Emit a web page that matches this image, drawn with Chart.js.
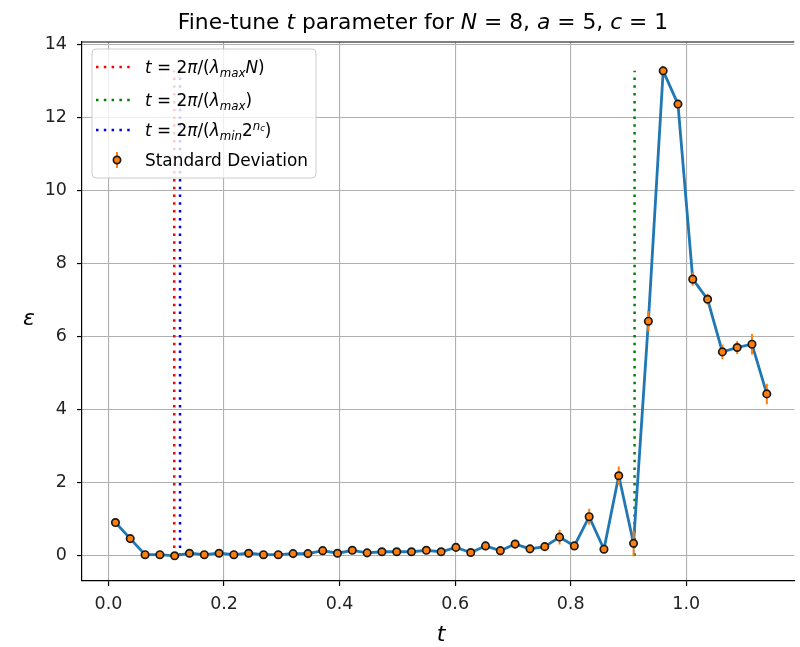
<!DOCTYPE html>
<html>
<head>
<meta charset="utf-8">
<script src="https://cdn.jsdelivr.net/npm/chart.js@4"></script>
<style>
  html, body { margin: 0; background: #fff; }
  #wrap { width: 800px; height: 647px; }
</style>
</head>
<body>
<div id="wrap"><canvas id="chart" width="800" height="647"></canvas></div>
<script>
// t values (x)
const tValues = [
  0.0120, 0.0376, 0.0633, 0.0889, 0.1145, 0.1401, 0.1658, 0.1914, 0.2170, 0.2426,
  0.2683, 0.2939, 0.3195, 0.3452, 0.3708, 0.3964, 0.4220, 0.4477, 0.4733, 0.4989,
  0.5245, 0.5502, 0.5758, 0.6014, 0.6271, 0.6527, 0.6783, 0.7039, 0.7296, 0.7552,
  0.7808, 0.8064, 0.8321, 0.8577, 0.8833, 0.9089, 0.9346, 0.9602, 0.9858, 1.0114,
  1.0371, 1.0627, 1.0883, 1.1139, 1.1396
];
// epsilon (mean) per t
const epsValues = [
  0.91, 0.47, 0.03, 0.03, 0.00, 0.07, 0.03, 0.07, 0.03, 0.07,
  0.03, 0.03, 0.06, 0.06, 0.14, 0.07, 0.15, 0.08, 0.11, 0.11,
  0.11, 0.15, 0.11, 0.23, 0.09, 0.27, 0.14, 0.32, 0.19, 0.25,
  0.51, 0.27, 1.07, 0.18, 2.19, 0.34, 6.42, 13.27, 12.36, 7.57,
  7.02, 5.58, 5.70, 5.79, 4.43
];
// standard deviation per t
const epsErrors = [
  0.05, 0.05, 0.03, 0.03, 0.03, 0.04, 0.03, 0.05, 0.03, 0.04,
  0.03, 0.03, 0.05, 0.05, 0.06, 0.05, 0.08, 0.05, 0.06, 0.06,
  0.06, 0.08, 0.06, 0.10, 0.06, 0.12, 0.07, 0.12, 0.08, 0.12,
  0.20, 0.10, 0.22, 0.10, 0.25, 0.35, 0.28, 0.12, 0.12, 0.18,
  0.15, 0.20, 0.18, 0.28, 0.28
];

// reference t lines
const tRed = 0.1138;    // 2pi/(lambda_max N)
const tGreen = 0.9107;  // 2pi/lambda_max
const tBlue = 0.1238;   // 2pi/(lambda_min 2^nc)
const vlineBottom = 0;
const vlineTop = 13.27;

const xMin = -0.0459, xMax = 1.1872;
const yMin = -0.69, yMax = 14.06;

const FONT = '"DejaVu Sans", "Liberation Sans", sans-serif';
const DOTS = [2.5, 5.3];

function fontFor(p, size) {
  const s = Math.round(size * (p.k || 1) * 10) / 10;
  return (p.it ? 'italic ' : '') + s + 'px ' + FONT;
}
function richWidth(ctx, parts, size) {
  let w = 0;
  parts.forEach(p => { ctx.font = fontFor(p, size); w += ctx.measureText(p.s).width; });
  return w;
}
function drawRich(ctx, parts, x, y, size) {
  ctx.textAlign = 'left';
  ctx.textBaseline = 'alphabetic';
  parts.forEach(p => {
    ctx.font = fontFor(p, size);
    ctx.fillText(p.s, x, y + (p.dy || 0) * size);
    x += ctx.measureText(p.s).width;
  });
}

const titleParts = [
  { s: 'Fine-tune ' }, { s: 't', it: 1 }, { s: ' parameter for ' },
  { s: 'N', it: 1 }, { s: ' = 8, ' }, { s: 'a', it: 1 }, { s: ' = 5, ' },
  { s: 'c', it: 1 }, { s: ' = 1' }
];
const legendItems = [
  { kind: 'line', color: '#ff0000', parts: [
    { s: 't', it: 1 }, { s: ' = 2' }, { s: 'π', it: 1 }, { s: '/(' }, { s: 'λ', it: 1 },
    { s: 'max', it: 1, k: 0.7, dy: 0.22 }, { s: 'N', it: 1 }, { s: ')' }] },
  { kind: 'line', color: '#008000', parts: [
    { s: 't', it: 1 }, { s: ' = 2' }, { s: 'π', it: 1 }, { s: '/(' }, { s: 'λ', it: 1 },
    { s: 'max', it: 1, k: 0.7, dy: 0.22 }, { s: ')' }] },
  { kind: 'line', color: '#0000ff', parts: [
    { s: 't', it: 1 }, { s: ' = 2' }, { s: 'π', it: 1 }, { s: '/(' }, { s: 'λ', it: 1 },
    { s: 'min', it: 1, k: 0.7, dy: 0.22 }, { s: '2' }, { s: 'n', it: 1, k: 0.7, dy: -0.38 },
    { s: 'c', it: 1, k: 0.5, dy: -0.28 }, { s: ')' }] },
  { kind: 'marker', parts: [{ s: 'Standard Deviation' }] }
];

// error bars drawn right after the blue line, below the markers
const errorBarPlugin = {
  id: 'errorBars',
  afterDatasetDraw(chart, args) {
    if (args.index !== 1) return;
    const { ctx, scales: { x, y }, chartArea } = chart;
    ctx.save();
    ctx.beginPath();
    ctx.rect(chartArea.left, chartArea.top, chartArea.right - chartArea.left, chartArea.bottom - chartArea.top);
    ctx.clip();
    ctx.strokeStyle = '#ff7f0e';
    ctx.lineWidth = 2;
    tValues.forEach((t, i) => {
      const px = x.getPixelForValue(t);
      ctx.beginPath();
      ctx.moveTo(px, y.getPixelForValue(epsValues[i] - epsErrors[i]));
      ctx.lineTo(px, y.getPixelForValue(epsValues[i] + epsErrors[i]));
      ctx.stroke();
    });
    ctx.restore();
  }
};

// title, axis labels, top spine, legend
const decorPlugin = {
  id: 'decor',
  afterDraw(chart) {
    const { ctx, chartArea } = chart;
    ctx.save();
    // top spine
    ctx.strokeStyle = '#000';
    ctx.lineWidth = 1.2;
    ctx.beginPath();
    ctx.moveTo(chartArea.left, chartArea.top);
    ctx.lineTo(chartArea.right, chartArea.top);
    ctx.stroke();

    ctx.fillStyle = '#000';
    // title
    const tw = richWidth(ctx, titleParts, 21.8);
    drawRich(ctx, titleParts, 423 - tw / 2, 29, 21.8);
    // axis labels
    ctx.font = 'italic 22px ' + FONT;
    ctx.textAlign = 'center';
    ctx.textBaseline = 'alphabetic';
    ctx.fillText('t', 441, 641);
    ctx.fillText('ε', 29, 325);

    // legend box
    const bx = 92, by = 49, bw = 224, bh = 129, r = 4;
    ctx.fillStyle = 'rgba(255,255,255,0.8)';
    ctx.strokeStyle = '#cccccc';
    ctx.lineWidth = 1;
    ctx.beginPath();
    ctx.roundRect(bx, by, bw, bh, r);
    ctx.fill();
    ctx.stroke();

    const rowY = [67, 100, 130, 160];
    legendItems.forEach((item, i) => {
      const cy = rowY[i];
      if (item.kind === 'line') {
        ctx.strokeStyle = item.color;
        ctx.lineWidth = 2.5;
        ctx.setLineDash(DOTS);
        ctx.beginPath();
        ctx.moveTo(96, cy);
        ctx.lineTo(133, cy);
        ctx.stroke();
        ctx.setLineDash([]);
      } else {
        ctx.strokeStyle = '#ff7f0e';
        ctx.lineWidth = 2;
        ctx.beginPath();
        ctx.moveTo(117, cy - 8);
        ctx.lineTo(117, cy + 8);
        ctx.stroke();
        ctx.fillStyle = '#ff7f0e';
        ctx.strokeStyle = '#1a1a1a';
        ctx.lineWidth = 1.7;
        ctx.beginPath();
        ctx.arc(117, cy, 3.6, 0, Math.PI * 2);
        ctx.fill();
        ctx.stroke();
      }
      ctx.fillStyle = '#000';
      drawRich(ctx, item.parts, 145, cy + 6, 16.9);
    });
    ctx.restore();
  }
};

const points = tValues.map((t, i) => ({ x: t, y: epsValues[i] }));
const vline = t => [{ x: t, y: vlineBottom }, { x: t, y: vlineTop }];

new Chart(document.getElementById('chart'), {
  type: 'line',
  data: {
    datasets: [
      {
        label: 'Standard Deviation',
        data: points,
        showLine: false,
        pointRadius: 3.7,
        pointBackgroundColor: '#ff7f0e',
        pointBorderColor: '#1a1a1a',
        pointBorderWidth: 1.7,
        order: 0
      },
      {
        label: 'eps',
        data: points,
        borderColor: '#1f77b4',
        borderWidth: 2.8,
        pointRadius: 0,
        tension: 0,
        order: 1
      },
      {
        label: 'red',
        data: vline(tRed),
        borderColor: '#ff0000',
        borderWidth: 2.5,
        borderDash: DOTS,
        pointRadius: 0,
        order: 2
      },
      {
        label: 'green',
        data: vline(tGreen),
        borderColor: '#008000',
        borderWidth: 2.5,
        borderDash: DOTS,
        pointRadius: 0,
        order: 2
      },
      {
        label: 'blue',
        data: vline(tBlue),
        borderColor: '#0000ff',
        borderWidth: 2.5,
        borderDash: DOTS,
        pointRadius: 0,
        order: 2
      }
    ]
  },
  options: {
    responsive: false,
    animation: false,
    devicePixelRatio: 1,
    layout: { padding: { top: 42, right: 0, left: 0, bottom: 0 } },
    plugins: {
      legend: { display: false },
      title: { display: false },
      tooltip: { enabled: false }
    },
    scales: {
      x: {
        type: 'linear',
        min: xMin,
        max: xMax,
        afterFit: s => { s.height = 66; },
        border: { color: '#000', width: 1.2 },
        grid: { color: '#b0b0b0', lineWidth: 1.1, tickColor: '#000', tickLength: 5, tickWidth: 1.2 },
        ticks: {
          stepSize: 0.2,
          includeBounds: false,
          maxRotation: 0,
          padding: 8,
          color: '#222',
          font: { family: FONT, size: 17.5 },
          callback: v => v.toFixed(1)
        }
      },
      y: {
        type: 'linear',
        min: yMin,
        max: yMax,
        afterFit: s => { s.width = 82; },
        border: { color: '#000', width: 1.2 },
        grid: { color: '#b0b0b0', lineWidth: 1.1, tickColor: '#000', tickLength: 5, tickWidth: 1.2 },
        ticks: {
          stepSize: 2,
          includeBounds: false,
          padding: 10,
          color: '#222',
          font: { family: FONT, size: 17.5 },
          callback: v => v.toFixed(0)
        }
      }
    }
  },
  plugins: [errorBarPlugin, decorPlugin]
});
</script>
</body>
</html>
